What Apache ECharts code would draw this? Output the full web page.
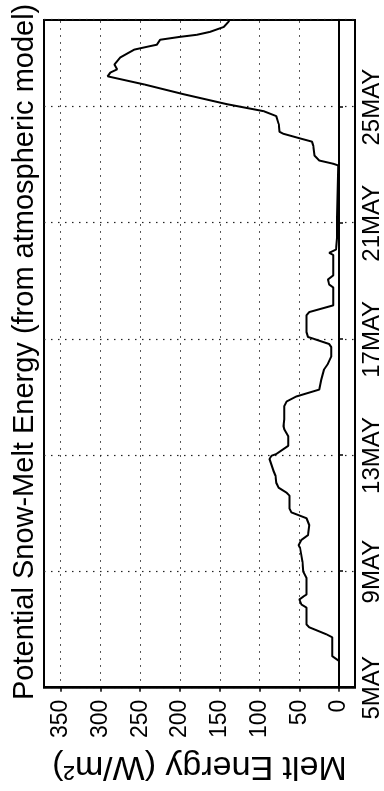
<!DOCTYPE html>
<html>
<head>
<meta charset="utf-8">
<script src="https://cdn.jsdelivr.net/npm/echarts@6/dist/echarts.min.js"></script>
<style>
html,body{margin:0;padding:0;background:#fff;overflow:hidden;width:384px;height:791px;}
#chart{position:absolute;left:0;top:0;width:791px;height:384px;transform-origin:0 0;transform:translateY(791px) rotate(-90deg);}
</style>
</head>
<body>
<div id="chart"></div>
<script>
// Days after 5 May (0 = 5MAY)
const days = [0, 0.92, 1.09, 1.74, 1.84, 2.08, 2.18, 2.76, 2.87, 3.04, 3.14, 3.21, 3.45, 3.79, 3.99, 4.33, 4.81, 4.91, 5.09, 5.26, 5.60, 5.84, 6.04, 6.18, 6.62, 6.72, 6.89, 7.06, 7.30, 7.47, 7.88, 7.99, 8.05, 8.33, 8.67, 8.91, 9.01, 9.25, 9.69, 9.86, 10.03, 10.27, 10.61, 10.96, 11.16, 11.40, 11.74, 11.84, 12.01, 12.08, 12.25, 12.83, 12.94, 13.17, 13.79, 13.89, 14.06, 14.20, 14.91, 14.98, 15.09, 15.49, 16.18, 17.99, 18.05, 18.16, 18.33, 18.67, 18.81, 18.91, 19.08, 19.15, 19.42, 19.69, 19.86, 20.10, 20.44, 20.78, 21.06, 21.19, 21.30, 21.47, 21.71, 21.98, 22.08, 22.15, 22.32, 22.42, 22.49, 22.59, 22.76, 22.94, 23.0];
// Melt energy (W/m^2)
const melt = [0, 0, 8.75, 8.75, 16, 37.5, 41, 41, 47.5, 50, 45, 41, 41, 41, 45, 46, 49, 51, 47.5, 39, 37.5, 41, 60, 62.5, 62.5, 66, 76, 79, 80, 82.5, 87.5, 85, 79, 64, 64, 69, 70, 69, 69, 66, 54, 25, 22.5, 19, 14, 10, 10, 12.5, 31, 39, 41, 41, 37.5, 7.5, 7.5, 12.5, 14, 7.5, 7.5, 12.5, 4, 2.5, 2.5, 1, 7.5, 25, 31, 32.5, 34, 47.5, 70, 75, 76, 79, 95, 141, 195, 245, 291, 287.5, 279, 282.5, 275, 257.5, 241, 229, 225, 200, 179, 162.5, 145, 139, 137.5];
const dateLabels = ['5MAY', '9MAY', '13MAY', '17MAY', '21MAY', '25MAY'];
const valueTicks = [0, 50, 100, 150, 200, 250, 300, 350];
const titleText = 'Potential Snow-Melt Energy (from atmospheric model)';
const yName = 'Melt Energy (W/m²)';

const chart = echarts.init(document.getElementById('chart'), null, {renderer: 'canvas', width: 791, height: 384});
const F = 'Liberation Sans, Arial, sans-serif';
const gridLine = {show: true, lineStyle: {color: '#222', width: 1.2, type: [1.5, 5.5]}};
chart.setOption({
  animation: false,
  backgroundColor: '#fff',
  title: {
    text: titleText,
    left: 86, top: 5,
    textStyle: {fontFamily: F, fontSize: 29, fontWeight: 'normal', color: '#000'}
  },
  grid: {left: 97, right: 20, top: 44, bottom: 25, show: true, borderColor: '#000', borderWidth: 2, backgroundColor: 'transparent'},
  xAxis: {
    type: 'value', min: 0, max: 23, interval: 4,
    axisLine: {show: true, lineStyle: {color: '#000', width: 2}},
    axisTick: {show: true, length: 4, lineStyle: {color: '#000', width: 1.5}},
    axisLabel: {
      fontFamily: F, fontSize: 24, color: '#000', margin: 5,
      showMaxLabel: false,
      formatter: v => (v % 4 === 0 && dateLabels[v / 4] !== undefined) ? dateLabels[v / 4] : ''
    },
    splitLine: gridLine
  },
  yAxis: {
    type: 'value', min: -20, max: 371,
    name: yName, nameLocation: 'middle', nameGap: 56, nameRotate: 90,
    nameTextStyle: {fontFamily: F, fontSize: 34, color: '#000'},
    axisLine: {show: true, lineStyle: {color: '#000', width: 2}},
    axisTick: {show: true, length: 4, customValues: valueTicks, lineStyle: {color: '#000', width: 1.5}},
    axisLabel: {fontFamily: F, fontSize: 23, color: '#000', margin: 12, customValues: valueTicks},
    splitLine: gridLine
  },
  series: [{
    type: 'line',
    data: days.map((d, i) => [d, melt[i]]),
    showSymbol: false,
    lineStyle: {color: '#000', width: 2},
    clip: true
  }]
});
</script>
</body>
</html>
